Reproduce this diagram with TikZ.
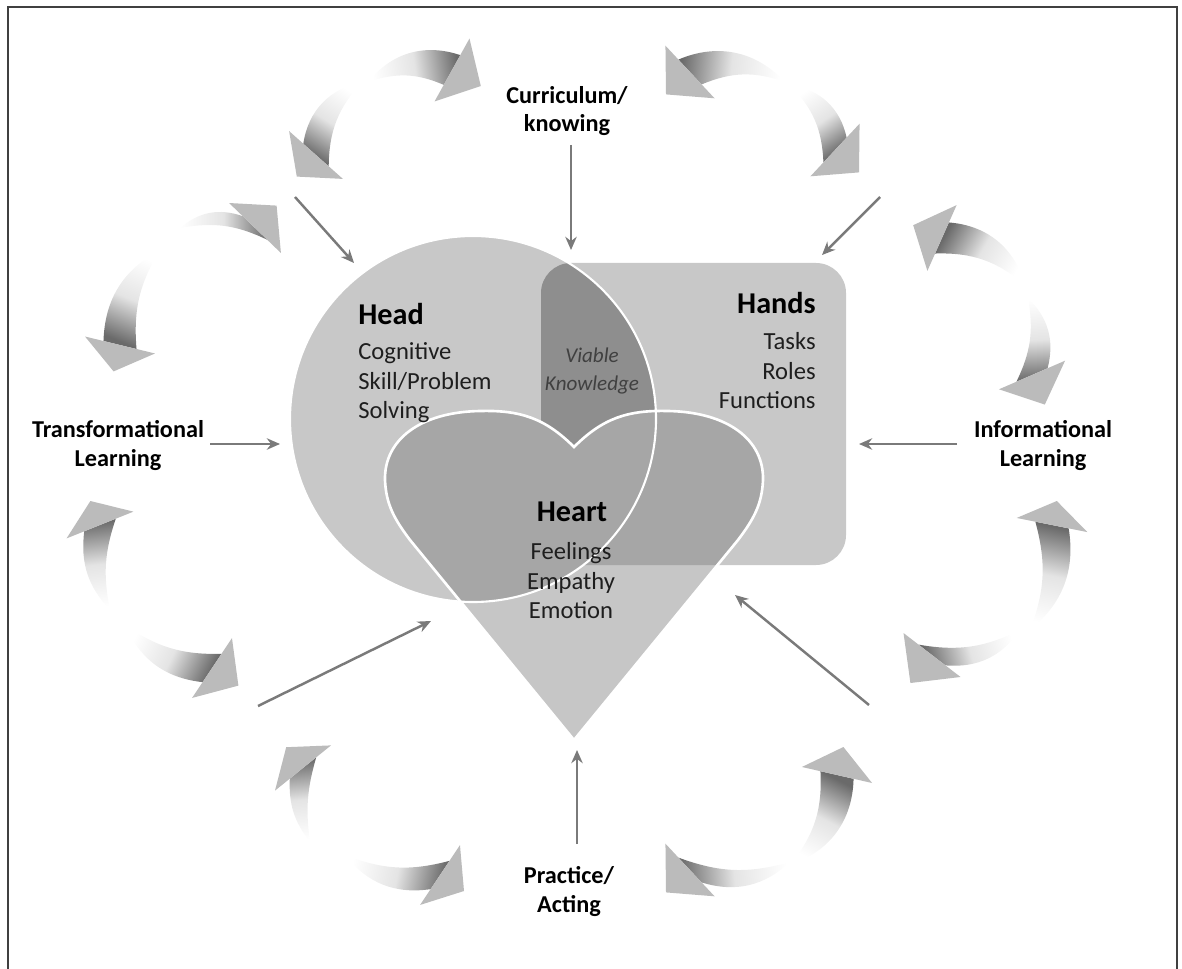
\documentclass[tikz,border=0pt]{standalone}
\usepackage{fontspec}
\setmainfont{Carlito}
\usetikzlibrary{calc,arrows.meta}

\definecolor{venngray}{HTML}{C8C8C8}
\definecolor{lensgray}{HTML}{8E8E8E}
\definecolor{heartgray}{HTML}{C6C6C6}
\definecolor{overgray}{HTML}{A6A6A6}
\definecolor{feedgray}{HTML}{7A7A7A}
\definecolor{swdark}{HTML}{6A6A6A}
\definecolor{swmid}{HTML}{E4E4E4}
\definecolor{swhead}{HTML}{BBBBBB}
\definecolor{inktext}{HTML}{1E1E1E}
\definecolor{framegray}{HTML}{404040}

\tikzset{
  feed/.style={draw=feedgray, line width=1.4pt, -{Stealth[length=7.5pt,width=6.5pt]}},
  swooshbody/.style={bottom color=white, top color=swdark, middle color=swmid},
  swooshhead/.style={fill=swhead},
  outerlabel/.style={font=\fontsize{13.8}{16.2}\selectfont\bfseries, align=center, inner sep=0pt, text=black},
  vennhead/.style={font=\fontsize{17.2}{20}\selectfont\bfseries, inner sep=0pt, text=black},
  venntext/.style={font=\fontsize{14}{16.8}\selectfont, inner sep=0pt, text=inktext}
}

% curved shaded arrow: tail, neck, tip, bend
\newcommand{\swoosh}[4]{%
  \coordinate (sw-t) at (#1);
  \coordinate (sw-n) at (#2);
  \coordinate (sw-p) at ($(#2)!0.8!(#3)$);
  \pgfmathsetmacro{\swside}{ifthenelse(#4>0,90,-90)}%
  \pgfmathsetmacro{\swopp}{-\swside}%
  \pgfmathsetmacro{\swinner}{0.6*#4}%
  \pgfmathanglebetweenpoints{\pgfpointanchor{sw-t}{center}}{\pgfpointanchor{sw-n}{center}}%
  \pgfmathsetmacro{\swang}{\pgfmathresult-90}%
  \shade[swooshbody, shading angle=\swang] (sw-t) to[bend left=#4] ($(sw-n)!0.34cm!\swside:(sw-p)$)
    -- ($(sw-n)!0.34cm!\swopp:(sw-p)$) to[bend right=\swinner] (sw-t) -- cycle;
  \fill[swooshhead] ($(sw-n)!0.72cm!\swside:(sw-p)$) -- (sw-p) -- ($(sw-n)!0.72cm!\swopp:(sw-p)$) -- cycle;
}

\newcommand{\heartpath}{(574,447) .. controls (545,418) and (520,410) .. (480,411)
  .. controls (420,412) and (384,440) .. (385,480)
  .. controls (386,505) and (395,520) .. (410,540) -- (574,740) -- (738,540)
  .. controls (753,520) and (762,505) .. (763,480)
  .. controls (764,440) and (728,412) .. (668,411)
  .. controls (628,410) and (603,418) .. (574,447) -- cycle}

\begin{document}
\begin{tikzpicture}[x=0.02cm, y=-0.02cm]
  \useasboundingbox (0,0) rectangle (1182,969);
  \draw[framegray, line width=1.2pt] (8,975) -- (8,7) -- (1177,7) -- (1177,975);

  % ring of curved arrows
  \swoosh{368,82}{452,70}{488,90}{35}
  \swoosh{362,82}{316,155}{292,182}{-35}
  \swoosh{785,82}{690,72}{660,100}{-35}
  \swoosh{790,85}{835,150}{865,178}{35}
  \swoosh{1025,285}{942,238}{906,222}{-35}
  \swoosh{1028,298}{1032,375}{1048,412}{30}
  \swoosh{1030,630}{1052,525}{1058,495}{-30}
  \swoosh{1020,630}{932,655}{905,690}{30}
  \swoosh{790,865}{837,775}{845,740}{-35}
  \swoosh{790,862}{690,870}{660,898}{30}
  \swoosh{310,842}{303,768}{282,742}{20}
  \swoosh{345,855}{440,875}{470,895}{-30}
  \swoosh{110,610}{100,525}{88,495}{25}
  \swoosh{125,625}{212,668}{245,690}{-30}
  \swoosh{180,228}{255,228}{282,200}{30}
  \swoosh{160,250}{120,345}{112,378}{-30}

  % venn shapes
  \fill[venngray] (473,419) circle[radius=183];
  \fill[venngray, rounded corners=0.6cm] (541,263) rectangle (846,565);
  \begin{scope}
    \clip (473,419) circle[radius=183];
    \fill[lensgray, rounded corners=0.6cm] (541,263) rectangle (846,565);
  \end{scope}
  \fill[heartgray] \heartpath;
  \begin{scope}
    \clip \heartpath;
    \fill[overgray] (473,419) circle[radius=183];
    \fill[overgray, rounded corners=0.6cm] (541,263) rectangle (846,565);
  \end{scope}
  \draw[white, line width=1.2pt] (473,419) circle[radius=183];
  \draw[white, line width=1.5pt] \heartpath;

  % labels
  \node[outerlabel] (curr) at (567,111) {Curriculum/\\knowing};
  \node[outerlabel] (trans) at (118,445.5) {Transformational\\Learning};
  \node[outerlabel] (info) at (1043,445.5) {Informational\\Learning};
  \node[outerlabel] (prac) at (569,891.5) {Practice/\\Acting};

  \node[vennhead, anchor=west] (headtitle) at (358,314) {Head};
  \node[venntext, anchor=west, align=left] (headtext) at (358,383) {Cognitive\\Skill/Problem\\Solving};
  \node[vennhead, anchor=east] (handstitle) at (816,303) {Hands};
  \node[venntext, anchor=east, align=right] (handstext) at (816,371) {Tasks\\Roles\\Functions};
  \node[venntext, font=\fontsize{12}{16}\selectfont\itshape, text=black!75, align=center] (viable) at (592,371) {Viable\\Knowledge};
  \node[vennhead] (hearttitle) at (572,512) {Heart};
  \node[venntext, align=center] (hearttext) at (571,581) {Feelings\\Empathy\\Emotion};

  % feeding arrows
  \coordinate (curr-out) at (571,145);  \coordinate (curr-in) at (571,250);
  \coordinate (ul-out) at (295,197);    \coordinate (ul-in) at (354,263);
  \coordinate (ur-out) at (880,197);    \coordinate (ur-in) at (822,255);
  \coordinate (trans-out) at (210,444); \coordinate (trans-in) at (280,444);
  \coordinate (info-out) at (957,444);  \coordinate (info-in) at (859,444);
  \coordinate (ll-out) at (258,706);    \coordinate (ll-in) at (431,621);
  \coordinate (lr-out) at (869,705);    \coordinate (lr-in) at (735,595);
  \coordinate (prac-out) at (577,844);  \coordinate (prac-in) at (577,750);
  \foreach \f in {curr,ul,ur,trans,info,ll,lr,prac}
    \draw[feed] (\f-out) -- (\f-in);
\end{tikzpicture}
\end{document}
